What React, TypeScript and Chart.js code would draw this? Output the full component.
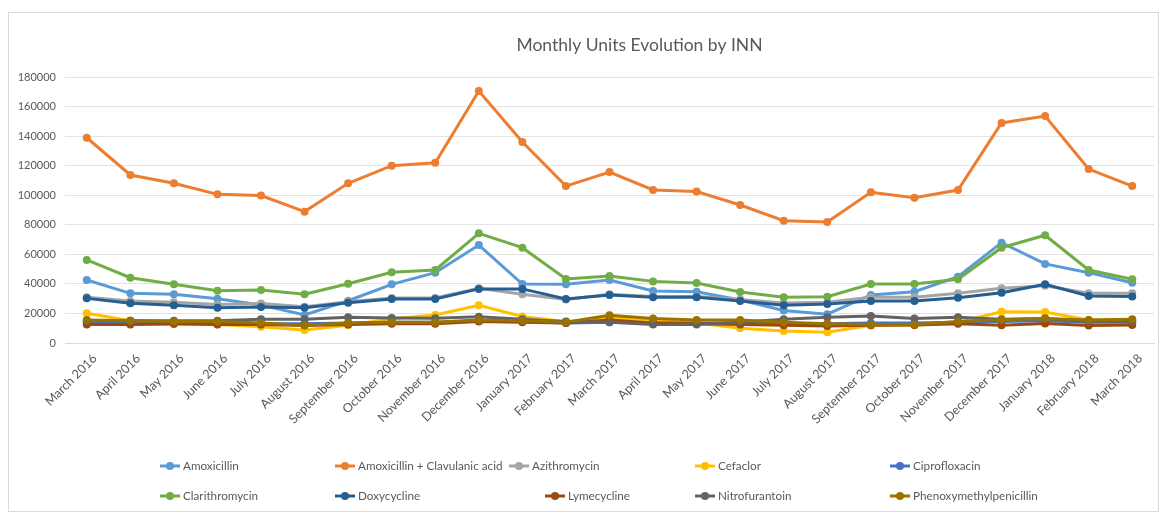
import React, { useEffect, useRef } from "react";
import { Chart, registerables } from "chart.js";

Chart.register(...registerables);

const months = [
  "March 2016", "April 2016", "May 2016", "June 2016", "July 2016", "August 2016",
  "September 2016", "October 2016", "November 2016", "December 2016", "January 2017",
  "February 2017", "March 2017", "April 2017", "May 2017", "June 2017", "July 2017",
  "August 2017", "September 2017", "October 2017", "November 2017", "December 2017",
  "January 2018", "February 2018", "March 2018",
];

const amoxicillin = [42600, 33600, 33000, 30000, 25700, 19000, 28600, 39700, 47600, 66300, 39900, 39700, 42600, 35200, 34700, 29100, 22000, 19500, 32500, 34700, 44900, 67900, 53500, 47600, 40800];
const amoxClav = [138900, 113700, 108100, 100600, 99800, 88900, 108100, 120000, 122000, 170500, 136000, 106200, 115700, 103600, 102500, 93400, 82800, 81900, 102000, 98300, 103500, 148900, 153600, 117700, 106200];
const azithromycin = [31000, 28500, 27500, 26000, 26800, 24600, 28000, 30500, 30500, 37000, 33000, 29500, 33000, 31500, 31500, 29500, 27000, 27500, 31000, 31000, 33600, 37000, 38800, 33600, 33600];
const cefaclor = [20100, 15000, 14000, 12500, 11000, 8800, 12000, 16500, 19000, 25500, 18000, 14400, 17000, 15500, 13500, 9900, 8100, 7300, 12000, 12000, 14000, 21200, 21000, 15500, 15500];
const ciprofloxacin = [14000, 13500, 13500, 13000, 13000, 13000, 13500, 14000, 14000, 15000, 14500, 13500, 14000, 13500, 13500, 13500, 13000, 13000, 13500, 13500, 14000, 14500, 15000, 14000, 14000];
const clarithromycin = [56200, 44200, 39700, 35400, 35900, 33000, 40100, 47800, 49400, 74200, 64500, 43300, 45300, 41700, 40600, 34500, 30900, 31300, 39900, 39900, 43100, 64500, 72900, 49400, 43100];
const doxycycline = [30200, 26900, 25500, 23900, 24400, 23900, 27300, 29800, 29800, 36600, 36600, 29800, 32500, 31000, 31000, 28500, 25500, 26400, 28400, 28400, 30700, 34000, 39700, 31800, 31400];
const lymecycline = [12500, 12500, 12800, 12500, 12500, 11800, 12500, 13000, 13000, 14500, 14000, 13500, 15500, 13500, 13000, 12500, 12000, 11500, 12000, 12200, 13000, 12000, 13200, 11800, 12200];
const nitrofurantoin = [15000, 15000, 15000, 15000, 16000, 16000, 17500, 17000, 16800, 17800, 16000, 14500, 14000, 12500, 12500, 14000, 16000, 17500, 18200, 16500, 17500, 16000, 16500, 14500, 14500];
const phenoxymethylpenicillin = [15500, 15000, 14500, 14500, 13500, 12000, 13500, 14000, 14000, 15500, 15000, 14000, 18800, 16500, 15500, 15500, 14000, 13000, 12500, 12500, 14500, 15800, 16500, 15500, 16000];

const seriesNames = [
  "Amoxicillin", "Amoxicillin + Clavulanic acid", "Azithromycin", "Cefaclor", "Ciprofloxacin",
  "Clarithromycin", "Doxycycline", "Lymecycline", "Nitrofurantoin", "Phenoxymethylpenicillin",
];
const seriesValues = [
  amoxicillin, amoxClav, azithromycin, cefaclor, ciprofloxacin,
  clarithromycin, doxycycline, lymecycline, nitrofurantoin, phenoxymethylpenicillin,
];
const seriesColors = [
  "#5B9BD5", "#ED7D31", "#A5A5A5", "#FFC000", "#4472C4",
  "#70AD47", "#255E91", "#9E480E", "#636363", "#997300",
];

const titleText = "Monthly Units Evolution by INN";
const FONT = "Lato, 'Open Sans', sans-serif";
const TEXT = "#595959";

const titlePlugin = {
  id: "excelTitle",
  afterDraw(chart: any) {
    const ctx = chart.ctx;
    ctx.save();
    ctx.font = `17.5px ${FONT}`;
    ctx.fillStyle = TEXT;
    ctx.textAlign = "center";
    ctx.textBaseline = "middle";
    const a = chart.chartArea;
    ctx.fillText(titleText, (a.left + a.right) / 2 + 30, 32);
    ctx.restore();
  },
};

const legendPlugin = {
  id: "excelLegend",
  afterDraw(chart: any) {
    const ctx = chart.ctx;
    const cols = [151, 326, 500, 686, 881];
    const cols2 = [151, 326, 536, 686, 881];
    const rows = [453, 483];
    ctx.save();
    ctx.font = `11.7px ${FONT}`;
    ctx.textBaseline = "middle";
    ctx.textAlign = "left";
    seriesNames.forEach((name, i) => {
      const r = Math.floor(i / 5);
      const c = i % 5;
      const x = (r === 0 ? cols : cols2)[c];
      const y = rows[r];
      ctx.strokeStyle = seriesColors[i];
      ctx.lineWidth = 3;
      ctx.beginPath();
      ctx.moveTo(x, y);
      ctx.lineTo(x + 20, y);
      ctx.stroke();
      ctx.fillStyle = seriesColors[i];
      ctx.beginPath();
      ctx.arc(x + 10, y, 4, 0, Math.PI * 2);
      ctx.fill();
      ctx.fillStyle = TEXT;
      ctx.fillText(name, x + 23, y);
    });
    ctx.restore();
  },
};

export default function App() {
  const ref = useRef<HTMLCanvasElement | null>(null);
  useEffect(() => {
    document.body.style.overflow = "hidden";
    const canvas = ref.current;
    if (!canvas) return;
    const chart = new Chart(canvas, {
      type: "line",
      data: {
        labels: months,
        datasets: seriesNames.map((name, i) => ({
          label: name,
          data: seriesValues[i],
          borderColor: seriesColors[i],
          backgroundColor: seriesColors[i],
          borderWidth: 3,
          pointRadius: 4,
          pointBorderWidth: 0,
          pointBackgroundColor: seriesColors[i],
          tension: 0,
          order: seriesNames.length - i,
        })),
      },
      options: {
        responsive: false,
        animation: false,
        layout: { padding: { left: 0, right: 2, top: 64, bottom: 0 } },
        plugins: {
          legend: { display: false },
          title: { display: false },
          tooltip: { enabled: false },
        },
        scales: {
          x: {
            offset: true,
            grid: { display: false, drawTicks: false },
            border: { display: true, color: "#d9d9d9" },
            ticks: {
              autoSkip: false,
              maxRotation: 45,
              minRotation: 45,
              padding: 8,
              labelOffset: 8,
              color: TEXT,
              font: { family: FONT, size: 12.5 },
            },
            afterFit: (scale: any) => {
              scale.height = 168;
            },
          },
          y: {
            min: 0,
            max: 180000,
            ticks: {
              stepSize: 20000,
              padding: 9,
              color: TEXT,
              font: { family: FONT, size: 11 },
              callback: (v: any) => String(v),
            },
            grid: { color: "#e3e3e3", drawTicks: false },
            border: { display: false },
            afterFit: (scale: any) => {
              scale.width = 56;
            },
          },
        },
      },
      plugins: [titlePlugin, legendPlugin],
    });
    return () => chart.destroy();
  }, []);
  return (
    <div
      style={{
        width: 1151,
        height: 500,
        marginTop: 4,
        border: "1px solid #d9d9d9",
        boxSizing: "border-box",
        background: "#fff",
      }}
    >
      <canvas ref={ref} width={1149} height={498} style={{ display: "block" }} />
    </div>
  );
}
